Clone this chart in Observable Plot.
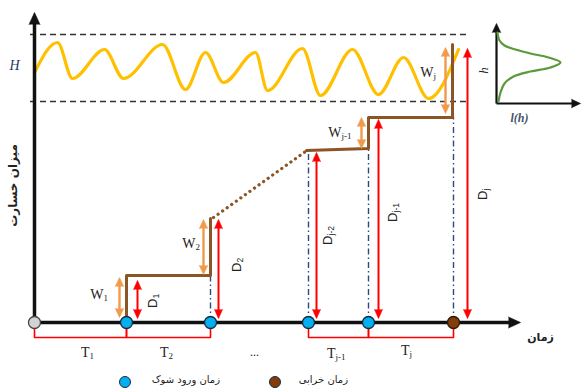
<!DOCTYPE html>
<html><head><meta charset="utf-8">
<script src="https://cdn.jsdelivr.net/npm/d3@7"></script>
<script src="https://cdn.jsdelivr.net/npm/@observablehq/plot@0.6"></script>
<style>
body{margin:0;background:#fff;}
#wrap{position:relative;width:582px;height:391px;overflow:hidden;background:#fff}
#legend{position:absolute;left:0;top:370px;width:582px;height:21px;font-family:"DejaVu Sans",sans-serif;font-size:10px;color:#222}
.sw{position:absolute;top:6px;width:10px;height:10px;border-radius:50%;border:1.4px solid #1b2b3b;}
.lt{position:absolute;top:4px;direction:rtl;white-space:nowrap}
</style></head><body>
<div id="wrap"><div id="chart"></div><div id="legend"></div></div>
<script>
// ---- data (time units along x, loss units along y) ----
const shockTimes = [9.2, 17.6, 27.4, 33.4];
const failureTime = 41.9;
const limitLevels = [28.8, 22.1];
const limitSpan = [-0.4, 43.3];
const wave = [[0,25.0],[2.3,28.0],[3.8,24.4],[7.0,27.3],[8.9,24.4],[12.8,27.8],[15.1,23.3],[17.1,27.0],[18.9,24.0],[22.1,27.0],[23.3,23.2],[26.8,27.4],[28.6,22.7],[31.8,27.3],[34.4,22.8],[36.9,26.5],[39.4,22.4],[42.4,27.3]];
const pathSolid1 = [[9.2,0],[9.2,4.7],[17.6,4.7],[17.6,10.4]];
const pathDotted = [[17.9,10.5],[27.1,17.1]];
const pathSolid2 = [[27.2,17.2],[33.4,17.4],[33.4,20.5],[41.8,20.5],[41.8,27.8]];
const navyX = [17.6, 27.4, 33.4, 41.9];
const navyTop = [4.7, 17.2, 17.4, 20.5];
const wX = [8.5, 16.9, 32.7, 41.1];
const wLow = [0.5, 4.8, 17.4, 20.9];
const wHigh = [4.5, 10.3, 20.5, 27.5];
const wSubs = ["1", "2", "j-1", "j"];
const wLabelPos = [[6.9,2.8],[16.1,7.9],[30.7,19.0],[39.9,25.0]];
const dX = [10.3, 18.4, 28.2, 34.4, 43.3];
const dTop = [4.2, 10.3, 17.0, 20.3, 27.4];
const dBottom = 0.4;
const dSubs = ["1", "2", "j-2", "j-1", "j"];
const dLabelPos = [[11.8,2.4],[20.2,6.0],[29.3,8.7],[35.8,11.0],[44.8,13.2]];
const intervals = [[0,9.2],[9.2,17.6],[27.4,33.4],[33.4,41.9]];
const tSubs = ["1", "2", "j-1", "j"];
const tLabelPos = [[5.5,-3.0],[13.4,-3.0],[30.1,-3.1],[37.5,-2.8]];
const ellipsisPos = [22.0, -3.0];
const yAxisTip = 31.0, xAxisTip = 48.6;
const insetOrigin = [46.2, 21.9], insetYTip = 29.9, insetXTip = 54.6;
const density = [[46.3,29.0],[46.5,28.2],[47.0,27.7],[48.1,27.3],[49.6,26.9],[51.4,26.5],[52.6,26.0],[51.6,25.5],[49.6,25.1],[47.9,24.6],[47.0,23.9],[46.6,23.0],[46.4,22.1]];
const labelH = [-2.0, 25.7];
const labelTime = [50.6, -1.5];
const labelLoss = [-2.1, 13.7];
const labelLh = [48.5, 20.4];
const labelh = [44.9, 25.2];
const txtTime = "زمان", txtLoss = "میزان خسارت", txtShock = "زمان ورود شوک", txtFail = "زمان خرابی";

// ---- colours ----
const RED = "#FF0000", ORANGE = "#F19A4C", BROWN = "#8B5526", NAVY = "#2E4A7A", GOLD = "#FFC000", GREEN = "#5A9A3C";
const X = d => d[0], Y = d => d[1];

function heads(data, color, len, r, rot) {
  return Plot.vector(data, {x: X, y: Y, length: len, r, rotate: rot, anchor: "end", shape: "spike", fill: color, stroke: color, strokeWidth: 0.6});
}

const bracketPts = intervals.flatMap(([a,b],i) => [{i,x:a,y:-0.5},{i,x:a,y:-1.5},{i,x:b,y:-1.5},{i,x:b,y:-0.5}]);
const wArrows = wX.map((x,i) => ({x, lo: wLow[i], hi: wHigh[i]}));
const dArrows = dX.map((x,i) => ({x, lo: dBottom, hi: dTop[i]}));

const serif = "Liberation Serif", sans = "Liberation Sans", fa = "DejaVu Sans";

const marks = [
  // limits
  Plot.ruleY(limitLevels, {x1: limitSpan[0], x2: limitSpan[1], stroke: "#333", strokeWidth: 1.3, strokeDasharray: "6,4"}),
  // hazard wave
  Plot.line(wave, {x: X, y: Y, curve: "monotone-x", stroke: GOLD, strokeWidth: 3.2}),
  // dash-dot verticals
  Plot.ruleX(navyX.map((x,i) => ({x, top: navyTop[i]})), {x: "x", y1: 0, y2: "top", stroke: NAVY, strokeWidth: 1.4, strokeDasharray: "6,3,1.5,3"}),
  // main axes
  Plot.link([[0,0]], {x1: 0, y1: 0, x2: 0, y2: yAxisTip - 0.5, stroke: "#111", strokeWidth: 3.5}),
  Plot.link([[0,0]], {x1: 0, y1: 0, x2: xAxisTip - 0.5, y2: 0, stroke: "#111", strokeWidth: 3.5}),
  heads([[0, yAxisTip]], "#111", 12, 5.5, 0),
  heads([[xAxisTip, 0]], "#111", 12, 5.5, 90),
  // interval brackets
  Plot.line(bracketPts, {x: "x", y: "y", z: "i", stroke: RED, strokeWidth: 1.6}),
  // degradation path
  Plot.line(pathSolid1, {x: X, y: Y, stroke: BROWN, strokeWidth: 3}),
  Plot.line(pathDotted, {x: X, y: Y, stroke: BROWN, strokeWidth: 3.2, strokeDasharray: "0.1,5.5", strokeLinecap: "round"}),
  Plot.line(pathSolid2, {x: X, y: Y, stroke: BROWN, strokeWidth: 3}),
  // W arrows
  Plot.link(wArrows, {x1: "x", x2: "x", y1: d => d.lo + 0.3, y2: d => d.hi - 0.3, stroke: ORANGE, strokeWidth: 2.4}),
  heads(wArrows.map(d => [d.x, d.hi]), ORANGE, 9, 4.2, 0),
  heads(wArrows.map(d => [d.x, d.lo]), ORANGE, 9, 4.2, 180),
  // D arrows
  Plot.link(dArrows, {x1: "x", x2: "x", y1: d => d.lo + 0.3, y2: d => d.hi - 0.3, stroke: RED, strokeWidth: 2}),
  heads(dArrows.map(d => [d.x, d.hi]), RED, 9, 4, 0),
  heads(dArrows.map(d => [d.x, d.lo]), RED, 9, 4, 180),
  // event dots
  Plot.dot([[0,0]], {x: X, y: Y, r: 6, fill: "#d3d3d3", stroke: "#444", strokeWidth: 1.3}),
  Plot.dot(shockTimes, {x: d => d, y: 0, r: 6, fill: "#00B0F0", stroke: "#1b2b3b", strokeWidth: 1.3}),
  Plot.dot([failureTime], {x: d => d, y: 0, r: 6, fill: "#843C0C", stroke: "#2a1a0a", strokeWidth: 1.3}),
  // T labels
  Plot.text(tLabelPos, {x: X, y: Y, text: () => "T", textAnchor: "end", fontFamily: serif, fontSize: 14, fill: "#222"}),
  Plot.text(tLabelPos, {x: X, y: Y, text: (d,i) => tSubs[i], textAnchor: "start", dy: 4, fontFamily: serif, fontSize: 9, fill: "#222"}),
  Plot.text([ellipsisPos], {x: X, y: Y, text: () => "...", fontFamily: serif, fontSize: 12, fill: "#222"}),
  // W labels
  Plot.text(wLabelPos, {x: X, y: Y, text: () => "W", textAnchor: "end", fontFamily: serif, fontSize: 14, fill: "#222"}),
  Plot.text(wLabelPos, {x: X, y: Y, text: (d,i) => wSubs[i], textAnchor: "start", dy: 4, fontFamily: serif, fontSize: 9, fill: "#222"}),
  // D labels (rotated)
  Plot.text(dLabelPos, {x: X, y: Y, text: () => "D", rotate: -90, textAnchor: "end", fontFamily: sans, fontSize: 13, fill: "#222"}),
  Plot.text(dLabelPos, {x: X, y: Y, text: (d,i) => dSubs[i], rotate: -90, textAnchor: "start", dx: 4, fontFamily: sans, fontSize: 8.5, fill: "#222"}),
  // axis labels
  Plot.text([labelH], {x: X, y: Y, text: () => "H", fontFamily: serif, fontStyle: "italic", fontSize: 14, fill: "#1F3864"}),
  Plot.text([labelTime], {x: X, y: Y, text: () => txtTime, fontFamily: fa, fontWeight: "bold", fontSize: 11, fill: "#222"}),
  Plot.text([labelLoss], {x: X, y: Y, text: () => txtLoss, rotate: -90, fontFamily: fa, fontWeight: "bold", fontSize: 12, fill: "#222"}),
  // inset
  Plot.link([0], {x1: insetOrigin[0], y1: insetOrigin[1], x2: insetOrigin[0], y2: insetYTip - 0.5, stroke: "#111", strokeWidth: 2.2}),
  Plot.link([0], {x1: insetOrigin[0], y1: insetOrigin[1], x2: insetXTip - 0.5, y2: insetOrigin[1], stroke: "#111", strokeWidth: 2.2}),
  heads([[insetOrigin[0], insetYTip]], "#111", 9, 4.2, 0),
  heads([[insetXTip, insetOrigin[1]]], "#111", 9, 4.2, 90),
  Plot.line(density, {x: X, y: Y, curve: "catmull-rom", stroke: GREEN, strokeWidth: 2.2}),
  Plot.text([labelLh], {x: X, y: Y, text: () => "l(h)", fontFamily: serif, fontStyle: "italic", fontWeight: "bold", fontSize: 12, fill: "#44546A"}),
  Plot.text([labelh], {x: X, y: Y, text: () => "h", rotate: -90, fontFamily: serif, fontStyle: "italic", fontSize: 13, fill: "#222"})
];

const chart = Plot.plot({
  width: 582, height: 370, margin: 0,
  x: {domain: [-3.4, 54.8], axis: null},
  y: {domain: [-4.8, 32.2], axis: null},
  style: {background: "#fff", overflow: "visible"},
  marks
});
document.getElementById("chart").appendChild(chart);

// legend
const legend = document.getElementById("legend");
legend.innerHTML =
  `<span class="sw" style="left:119px;background:#00B0F0"></span>` +
  `<span class="lt" style="right:362px">${txtShock}</span>` +
  `<span class="sw" style="left:269px;background:#843C0C"></span>` +
  `<span class="lt" style="right:234px">${txtFail}</span>`;
</script>
</body></html>
